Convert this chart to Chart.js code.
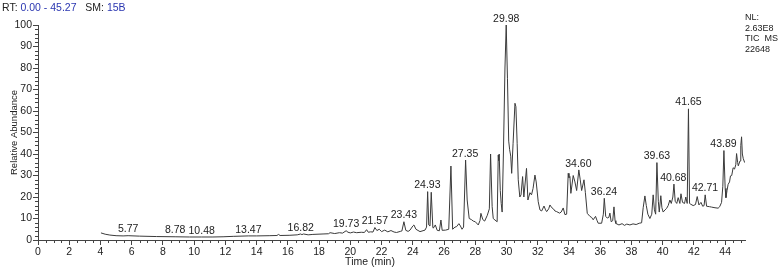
<!DOCTYPE html>
<html>
<head>
<meta charset="utf-8">
<script src="https://cdn.jsdelivr.net/npm/chart.js@4.4.0/dist/chart.umd.min.js"></script>
<style>
  body { margin: 0; background: #fff; }
  #wrap { position: relative; width: 780px; height: 271px; font-family: "Liberation Sans", Arial, sans-serif; }
  canvas { position: absolute; left: 0; top: 0; }
  .hdr { position: absolute; left: 2px; top: 1px; font-size: 10.5px; color: #222; white-space: pre; }
  .hdr .b { color: #2a36b1; }
  .nl { position: absolute; left: 745px; top: 12px; font-size: 9px; line-height: 10.5px; color: #222; white-space: pre; }
</style>
</head>
<body>
<div id="wrap">
  <canvas id="chart" width="780" height="271"></canvas>
  <div class="hdr">RT: <span class="b">0.00 - 45.27</span>   SM: <span class="b">15B</span></div>
  <div class="nl">NL:
2.63E8
TIC  MS
22648</div>
</div>
<script>
// retention time (min) and relative abundance
const times = [
  4.03, 4.3, 4.6, 5.0, 5.45, 5.77, 6.5, 7.6, 8.78, 9.7, 10.48, 11.2, 11.85, 12.5, 13.47, 14.0, 14.8, 15.3, 15.4, 15.5,
  16.13, 16.6, 16.82, 16.9, 17.0, 17.3, 17.6, 18.25, 18.6, 18.7, 19.0, 19.3, 19.5, 19.73, 19.85, 20.0, 20.2, 20.4, 20.7, 20.9,
  21.04, 21.15, 21.3, 21.45, 21.57, 21.7, 21.85, 22.0, 22.2, 22.4, 22.6, 22.8, 22.96, 23.2, 23.3, 23.43, 23.55, 23.7, 23.82, 24.0,
  24.07, 24.2, 24.46, 24.78, 24.88, 24.95, 25.02, 25.1, 25.18, 25.28, 25.31, 25.44, 25.56, 25.7, 25.8, 25.88, 26.1, 26.3, 26.44, 26.55,
  26.7, 26.8, 26.95, 27.05, 27.15, 27.25, 27.38, 27.48, 27.61, 27.75, 27.87, 28.0, 28.19, 28.3, 28.36, 28.48, 28.6, 28.77, 28.9, 28.98,
  29.08, 29.15, 29.26, 29.4, 29.47, 29.5, 29.53, 29.6, 29.66, 29.72, 29.8, 29.9, 29.98, 30.06, 30.14, 30.2, 30.27, 30.33, 30.42, 30.54,
  30.6, 30.68, 30.75, 30.85, 30.93, 31.03, 31.11, 31.28, 31.37, 31.5, 31.6, 31.7, 31.82, 31.9, 32.03, 32.14, 32.25, 32.4, 32.5, 32.57,
  32.7, 32.78, 32.9, 33.0, 33.1, 33.21, 33.4, 33.5, 33.63, 33.74, 33.85, 33.95, 34.0, 34.06, 34.12, 34.27, 34.38, 34.49, 34.63, 34.72,
  34.81, 34.96, 35.05, 35.17, 35.34, 35.45, 35.55, 35.7, 35.8, 35.87, 36.09, 36.2, 36.26, 36.35, 36.45, 36.55, 36.62, 36.7, 36.8, 36.88,
  36.95, 37.0, 37.2, 37.4, 37.55, 37.7, 37.9, 38.1, 38.3, 38.5, 38.65, 38.75, 38.86, 38.95, 39.05, 39.18, 39.3, 39.39, 39.47, 39.55,
  39.63, 39.72, 39.78, 39.88, 39.95, 40.03, 40.15, 40.25, 40.35, 40.46, 40.55, 40.65, 40.72, 40.8, 40.9, 40.99, 41.1, 41.17, 41.27, 41.4,
  41.48, 41.57, 41.65, 41.72, 41.76, 41.95, 42.1, 42.21, 42.32, 42.45, 42.56, 42.65, 42.72, 42.81, 43.0, 43.13, 43.35, 43.55, 43.65, 43.77,
  43.85, 43.92, 44.0, 44.05, 44.12, 44.19, 44.28, 44.34, 44.42, 44.51, 44.6, 44.68, 44.73, 44.8, 44.84, 44.95, 45.0, 45.05, 45.1, 45.16,
  45.25
];
const abundance = [
  3.3, 2.7, 2.3, 2.0, 1.9, 2.0, 1.8, 1.6, 1.5, 1.4, 1.4, 1.4, 1.5, 1.7, 1.9, 1.9, 2.0, 2.1, 2.6, 2.1,
  2.2, 2.4, 2.8, 2.5, 2.8, 2.4, 2.6, 2.8, 2.9, 3.4, 3.0, 3.4, 3.2, 4.3, 3.6, 3.3, 3.7, 3.4, 3.6, 3.5,
  4.8, 3.6, 3.8, 3.7, 5.8, 4.4, 5.0, 3.9, 4.6, 3.8, 4.4, 3.7, 3.5, 4.0, 4.2, 8.5, 4.5, 4.0, 4.6, 6.5,
  7.0, 5.0, 3.9, 4.6, 6.0, 22.5, 7.0, 6.5, 22.2, 6.0, 5.5, 7.0, 4.5, 4.3, 9.3, 4.5, 4.6, 5.0, 34.4, 5.0,
  6.0, 6.2, 7.6, 6.5, 5.0, 6.0, 37.2, 18.6, 10.0, 9.5, 8.8, 8.5, 7.0, 9.0, 12.4, 9.5, 8.8, 11.5, 14.5, 40.0,
  15.5, 10.0, 9.3, 8.5, 39.5, 37.0, 40.0, 23.0, 17.0, 13.0, 40.0, 80.0, 100.0, 75.0, 46.0, 42.0, 39.0, 31.0, 45.0, 63.6,
  62.0, 45.0, 28.0, 20.0, 21.0, 29.5, 20.0, 33.3, 18.6, 22.0, 21.0, 24.0, 30.2, 27.0, 17.8, 14.0, 13.5, 15.8, 14.0, 13.2,
  14.5, 16.3, 15.0, 14.5, 13.5, 13.2, 12.5, 13.0, 14.9, 11.8, 12.0, 31.0, 29.0, 29.5, 21.7, 30.0, 27.0, 23.0, 32.6, 28.0,
  23.0, 28.0, 22.0, 12.4, 11.0, 10.5, 9.4, 11.0, 9.0, 7.8, 7.8, 12.0, 19.4, 11.0, 10.2, 10.5, 12.5, 8.5, 9.0, 15.4,
  9.0, 7.7, 7.0, 7.6, 6.8, 7.4, 7.0, 7.5, 7.2, 7.8, 8.0, 15.0, 20.5, 16.0, 12.0, 10.0, 12.0, 21.0, 14.0, 12.0,
  36.0, 18.0, 13.0, 20.6, 15.0, 13.0, 14.0, 14.7, 16.0, 18.6, 17.0, 20.0, 26.0, 18.0, 17.0, 19.7, 17.0, 21.5, 17.5, 17.0,
  20.0, 17.0, 61.0, 17.0, 16.8, 16.0, 16.5, 20.2, 16.3, 17.5, 15.7, 16.0, 21.0, 15.7, 15.5, 15.3, 15.0, 14.8, 15.5, 17.5,
  25.0, 41.6, 24.0, 19.7, 23.0, 25.9, 27.0, 29.8, 30.0, 33.6, 33.0, 35.0, 40.2, 36.0, 34.5, 36.8, 44.0, 48.0, 40.0, 37.8,
  36.0
];

// annotated peaks: retention time and apex height
const peakTimes = [5.77, 8.78, 10.48, 13.47, 16.82, 19.73, 21.57, 23.43, 24.93, 27.35, 29.98, 34.60, 36.24, 39.63, 40.68, 41.65, 42.71, 43.89];
const peakTops  = [2.2, 1.5, 1.4, 1.9, 2.8, 4.3, 5.8, 8.5, 22.5, 37.2, 100, 32.6, 19.4, 36, 26, 61, 21, 41.6];

const xTicks = [0, 2, 4, 6, 8, 10, 12, 14, 16, 18, 20, 22, 24, 26, 28, 30, 32, 34, 36, 38, 40, 42, 44];
const yTicks = [0, 10, 20, 30, 40, 50, 60, 70, 80, 90, 100];

const FONT = '"Liberation Sans", Arial, sans-serif';
const AXIS = '#444';
const INK = '#222';

const extras = {
    id: 'extras',
    afterDraw(chart) {
        const { ctx, chartArea } = chart;
        const xs = chart.scales.x;
        const ys = chart.scales.y;
        ctx.save();
        ctx.strokeStyle = AXIS;
        ctx.lineWidth = 1;
        ctx.beginPath();
        // minor ticks every 2 on y
        for (let v = 2; v < 100; v += 2) {
            if (v % 10 === 0) continue;
            const py = Math.round(ys.getPixelForValue(v)) + 0.5;
            ctx.moveTo(chartArea.left - 3, py);
            ctx.lineTo(chartArea.left, py);
        }
        // minor ticks every 0.5 min on x
        for (let i = 1; i / 2 <= 45.27; i++) {
            if (i % 4 === 0) continue;
            const px = Math.round(xs.getPixelForValue(i / 2)) + 0.5;
            ctx.moveTo(px, chartArea.bottom);
            ctx.lineTo(px, chartArea.bottom + 3);
        }
        ctx.stroke();

        ctx.fillStyle = INK;
        ctx.font = '10.5px ' + FONT;
        ctx.textAlign = 'center';
        ctx.textBaseline = 'bottom';
        peakTimes.forEach((t, i) => {
            ctx.fillText(t.toFixed(2), xs.getPixelForValue(t), ys.getPixelForValue(peakTops[i]) - 1);
        });

        ctx.textBaseline = 'middle';
        ctx.fillText('Time (min)', 370, 262);
        ctx.font = '9.5px ' + FONT;
        ctx.translate(14, (chartArea.top + chartArea.bottom) / 2);
        ctx.rotate(-Math.PI / 2);
        ctx.fillText('Relative Abundance', 0, 0);
        ctx.restore();
    }
};

new Chart(document.getElementById('chart').getContext('2d'), {
    type: 'line',
    data: {
        datasets: [{
            data: times.map((t, i) => ({ x: t, y: abundance[i] })),
            borderColor: '#3a3a3a',
            borderWidth: 1,
            pointRadius: 0,
            tension: 0,
            fill: false
        }]
    },
    options: {
        responsive: false,
        animation: false,
        layout: { padding: { left: 0, right: 35, top: 25, bottom: 0 } },
        plugins: { legend: { display: false }, tooltip: { enabled: false } },
        scales: {
            x: {
                type: 'linear',
                min: 0,
                max: 45.27,
                afterBuildTicks: s => { s.ticks = xTicks.map(v => ({ value: v })); },
                afterFit: s => { s.height = 31; },
                grid: { drawOnChartArea: false, tickLength: 5, color: AXIS },
                border: { color: AXIS },
                ticks: { color: INK, font: { size: 10.5, family: FONT }, padding: 1, maxRotation: 0, autoSkip: false }
            },
            y: {
                min: 0,
                max: 100,
                afterBuildTicks: s => { s.ticks = yTicks.map(v => ({ value: v })); },
                afterFit: s => { s.width = 38; },
                grid: { drawOnChartArea: false, tickLength: 5, color: AXIS },
                border: { color: AXIS },
                ticks: { color: INK, font: { size: 10.5, family: FONT }, padding: 1, autoSkip: false }
            }
        }
    },
    plugins: [extras]
});
</script>
</body>
</html>
